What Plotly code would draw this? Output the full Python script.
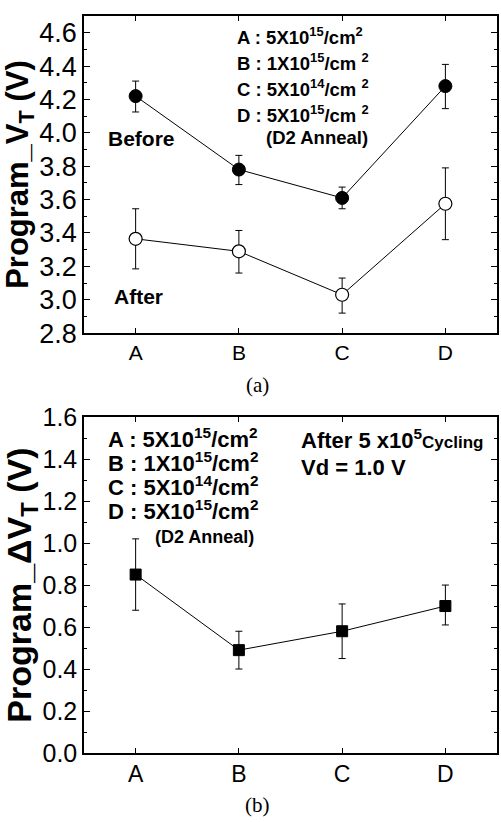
import plotly.graph_objects as go

# ---------------- data ----------------
categories = ["A", "B", "C", "D"]

before_vt = [4.22, 3.78, 3.61, 4.28]
before_err_plus = [0.09, 0.085, 0.065, 0.13]
before_err_minus = [0.095, 0.09, 0.065, 0.135]

after_vt = [3.365, 3.29, 3.03, 3.575]
after_err_plus = [0.18, 0.125, 0.10, 0.215]
after_err_minus = [0.18, 0.13, 0.11, 0.215]

delta_vt = [0.85, 0.49, 0.58, 0.70]
delta_err_plus = [0.17, 0.09, 0.13, 0.10]
delta_err_minus = [0.17, 0.09, 0.13, 0.09]

top_yticks = [2.8, 3.0, 3.2, 3.4, 3.6, 3.8, 4.0, 4.2, 4.4, 4.6]
bot_yticks = [0.0, 0.2, 0.4, 0.6, 0.8, 1.0, 1.2, 1.4, 1.6]

# ---------------- layout helpers ----------------
W, H = 501, 822
ML, MR, MT, MB = 84, 2, 7, 69
PW, PH = W - ML - MR, H - MT - MB


def px(x):
    return (x - ML) / PW


def py(y):
    return 1 - (y - MT) / PH


SANS = "Liberation Sans, Arial, sans-serif"
SERIF = "Liberation Serif, Times New Roman, serif"

fig = go.Figure()

err_style = dict(type="data", symmetric=False, color="black", thickness=1, width=3.5)

fig.add_trace(go.Scatter(
    x=categories, y=before_vt, mode="lines+markers",
    line=dict(color="black", width=1),
    marker=dict(symbol="circle", size=13, color="black", line=dict(color="black", width=1)),
    error_y=dict(array=before_err_plus, arrayminus=before_err_minus, **err_style),
    xaxis="x", yaxis="y", showlegend=False, name="Before"))

fig.add_trace(go.Scatter(
    x=categories, y=after_vt, mode="lines+markers",
    line=dict(color="black", width=1),
    marker=dict(symbol="circle", size=13, color="white", line=dict(color="black", width=1.2)),
    error_y=dict(array=after_err_plus, arrayminus=after_err_minus, **err_style),
    xaxis="x", yaxis="y", showlegend=False, name="After"))

fig.add_trace(go.Scatter(
    x=categories, y=delta_vt, mode="lines+markers",
    line=dict(color="black", width=1),
    marker=dict(symbol="square", size=11, color="black", line=dict(color="black", width=1)),
    error_y=dict(array=delta_err_plus, arrayminus=delta_err_minus, **err_style),
    xaxis="x2", yaxis="y2", showlegend=False, name="Delta"))

top_dom = [py(328), 1.0]
bot_dom = [0.0, py(413)]

axis_common = dict(showline=True, linecolor="black", linewidth=1.5, mirror="allticks",
                   ticks="inside", tickcolor="black", showgrid=False, zeroline=False)

fig.update_layout(
    width=W, height=H,
    margin=dict(l=ML, r=MR, t=MT, b=MB, pad=0),
    paper_bgcolor="white", plot_bgcolor="white",
    font=dict(family=SANS, color="black"),
    xaxis=dict(domain=[0, 1], anchor="y", type="category", range=[-0.5, 3.5],
               ticklen=5, tickfont=dict(size=21, family=SANS), **axis_common),
    yaxis=dict(domain=top_dom, anchor="x", range=[2.8, 4.70],
               tickvals=top_yticks, ticktext=[f"{v:.1f}" for v in top_yticks],
               ticklen=6, tickfont=dict(size=27, family=SANS),
               minor=dict(dtick=0.1, tick0=2.8, ticklen=3, ticks="inside", tickcolor="black"),
               title=dict(text="<b>Program_V<sub>T</sub> (V)</b>", font=dict(size=31, family=SANS),
                          standoff=6),
               **axis_common),
    xaxis2=dict(domain=[0, 1], anchor="y2", type="category", range=[-0.5, 3.5],
                ticklen=5, tickfont=dict(size=23, family=SANS), **axis_common),
    yaxis2=dict(domain=bot_dom, anchor="x2", range=[0, 1.6],
                tickvals=bot_yticks, ticktext=[f"{v:.1f}" for v in bot_yticks],
                ticklen=6, tickfont=dict(size=25, family=SANS),
                minor=dict(dtick=0.1, tick0=0, ticklen=3, ticks="inside", tickcolor="black"),
                title=dict(text="<b>Program_ΔV<sub>T</sub> (V)</b>", font=dict(size=34, family=SANS),
                           standoff=6),
                **axis_common),
)

ann = []


def add(text, x, y, size, xanchor="left", family=SANS, bold=True):
    ann.append(dict(text=(f"<b>{text}</b>" if bold else text), x=px(x), y=py(y),
                    xref="paper", yref="paper", xanchor=xanchor, yanchor="middle",
                    showarrow=False, font=dict(size=size, family=family, color="black")))


# top panel legend text
top_lines = [
    "A : 5X10<sup>15</sup>/cm<sup>2</sup>",
    "B : 1X10<sup>15</sup>/cm <sup>2</sup>",
    "C : 5X10<sup>14</sup>/cm <sup>2</sup>",
    "D : 5X10<sup>15</sup>/cm <sup>2</sup>",
]
for i, t in enumerate(top_lines):
    add(t, 236, 27 + 26.5 * i, 18.5)
add("(D2 Anneal)", 265, 130, 18.5)
add("Before", 106, 131, 21)
add("After", 112, 291, 21)
add("(a)", 258, 381, 21, xanchor="center", family=SERIF, bold=False)

# bottom panel text
bot_lines = [
    "A : 5X10<sup>15</sup>/cm<sup>2</sup>",
    "B : 1X10<sup>15</sup>/cm<sup>2</sup>",
    "C : 5X10<sup>14</sup>/cm<sup>2</sup>",
    "D : 5X10<sup>15</sup>/cm<sup>2</sup>",
]
for i, t in enumerate(bot_lines):
    add(t, 106, 434 + 24.5 * i, 22)
add("(D2 Anneal)", 153, 534, 18)
add("After 5 x10<sup>5</sup><span style='font-size:17px'>Cycling</span>", 300, 435, 22)
add("Vd = 1.0 V", 300, 464, 22)
add("(b)", 258, 806, 21, xanchor="center", family=SERIF, bold=False)

fig.update_layout(annotations=ann)

fig.write_html("out.html")
